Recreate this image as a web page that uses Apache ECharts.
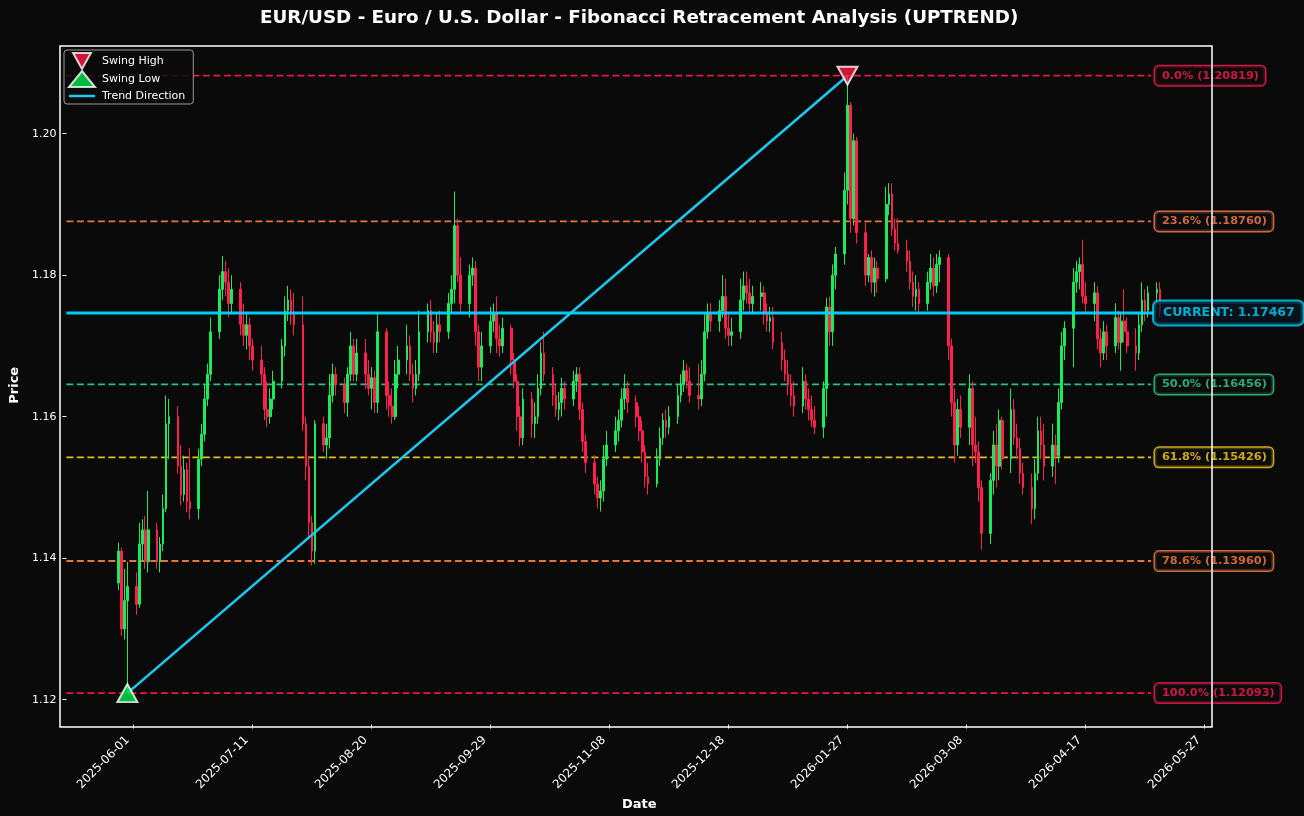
<!DOCTYPE html>
<html><head><meta charset="utf-8">
<script src="https://cdn.jsdelivr.net/npm/echarts@6/dist/echarts.min.js"></script>
<style>html,body{margin:0;padding:0;background:#0a0a0a;}#chart{width:1304px;height:816px;}</style>
</head><body><div id="chart"></div>
<script>
// ---------- data ----------
const START_DATE = '2025-05-27';
const END_DATE = '2026-05-12';
const opens = [
1.1365,1.1410,1.1300,1.1340,
1.1360,1.1335,1.1420,1.1440,1.1395, 1.1440,1.1395,1.1420,1.1470,1.1590, 1.1600,1.1530,1.1490,1.1525,1.1480,
1.1470,1.1540,1.1575,1.1625,1.1660, 1.1720,1.1780,1.1805,1.1790,1.1760, 1.1780,1.1730,1.1715,1.1730,1.1700,
1.1680,1.1660,1.1610,1.1600,1.1625, 1.1650,1.1700,1.1750,1.1765,1.1745, 1.1730,1.1590,1.1530,1.1450,1.1410,
1.1590,1.1560,1.1570,1.1630,1.1660, 1.1645,1.1620,1.1660,1.1700,1.1660, 1.1690,1.1660,1.1640,1.1655,1.1620,
1.1720,1.1630,1.1615,1.1600,1.1660, 1.1680,1.1700,1.1660,1.1640,1.1660, 1.1720,1.1750,1.1720,1.1705,1.1730,
1.1720,1.1760,1.1780,1.1870,1.1800, 1.1760,1.1800,1.1810,1.1720,1.1670, 1.1700,1.1735,1.1745,1.1710,1.1700,
1.1725,1.1680,1.1650,1.1600,1.1570, 1.1625,1.1590,1.1600,1.1640,1.1690, 1.1660,1.1630,1.1610,1.1620,1.1640,
1.1625,1.1650,1.1660,1.1610,1.1565, 1.1535,1.1505,1.1485,1.1495,1.1540, 1.1560,1.1580,1.1595,1.1625,1.1640,
1.1620,1.1600,1.1580,1.1550,1.1515, 1.1505,1.1540,1.1570,1.1595,1.1585, 1.1600,1.1630,1.1645,1.1665,1.1650,
1.1630,1.1625,1.1660,1.1720,1.1745, 1.1735,1.1750,1.1770,1.1725,1.1715, 1.1720,1.1765,1.1785,1.1775,1.1760,
1.1770,1.1775,1.1745,1.1735,1.1740, 1.1705,1.1680,1.1660,1.1645,1.1630, 1.1615,1.1650,1.1625,1.1610,1.1595,
1.1585,1.1640,1.1755,1.1720,1.1800, 1.1830,1.1920,1.2040,1.1880,1.1990, 1.1860,1.1800,1.1825,1.1790,1.1810,
1.1795,1.1900,1.1915,1.1865,1.1845, 1.1835,1.1820,1.1790,1.1770,1.1780, 1.1760,1.1790,1.1810,1.1785,1.1815,
1.1825,1.1700,1.1620,1.1560,1.1610, 1.1585,1.1640,1.1560,1.1550,1.1500, 1.1435,1.1510,1.1560,1.1530,1.1595,
1.1540,1.1610,1.1570,1.1555,1.1520, 1.1500,1.1470,1.1520,1.1580,1.1560, 1.1530,1.1560,1.1545,1.1620,1.1700,
1.1725,1.1790,1.1805,1.1815,1.1770, 1.1760,1.1775,1.1710,1.1690,1.1720, 1.1700,1.1740,1.1705,1.1735,1.1720,
1.1700,1.1690,1.1730,1.1765,1.1750, 1.1775,1.1780
];
const closes = [
1.1410,1.1300,1.1340,1.1360,
1.1335,1.1420,1.1440,1.1395,1.1440, 1.1395,1.1420,1.1470,1.1590,1.1600, 1.1530,1.1490,1.1525,1.1480,1.1470,
1.1540,1.1575,1.1625,1.1660,1.1720, 1.1780,1.1805,1.1790,1.1760,1.1780, 1.1730,1.1715,1.1730,1.1700,1.1680,
1.1660,1.1610,1.1600,1.1625,1.1650, 1.1700,1.1750,1.1765,1.1745,1.1730, 1.1590,1.1530,1.1450,1.1410,1.1590,
1.1560,1.1570,1.1630,1.1660,1.1645, 1.1620,1.1660,1.1700,1.1660,1.1690, 1.1660,1.1640,1.1655,1.1620,1.1720,
1.1630,1.1615,1.1600,1.1660,1.1680, 1.1700,1.1660,1.1640,1.1660,1.1720, 1.1750,1.1720,1.1705,1.1730,1.1720,
1.1760,1.1780,1.1870,1.1800,1.1760, 1.1800,1.1810,1.1720,1.1670,1.1700, 1.1735,1.1745,1.1710,1.1700,1.1725,
1.1680,1.1650,1.1600,1.1570,1.1625, 1.1590,1.1600,1.1640,1.1690,1.1660, 1.1630,1.1610,1.1620,1.1640,1.1625,
1.1650,1.1660,1.1610,1.1565,1.1535, 1.1505,1.1485,1.1495,1.1540,1.1560, 1.1580,1.1595,1.1625,1.1640,1.1620,
1.1600,1.1580,1.1550,1.1515,1.1505, 1.1540,1.1570,1.1595,1.1585,1.1600, 1.1630,1.1645,1.1665,1.1650,1.1630,
1.1625,1.1660,1.1720,1.1745,1.1735, 1.1750,1.1770,1.1725,1.1715,1.1720, 1.1765,1.1785,1.1775,1.1760,1.1770,
1.1775,1.1745,1.1735,1.1740,1.1705, 1.1680,1.1660,1.1645,1.1630,1.1615, 1.1650,1.1625,1.1610,1.1595,1.1585,
1.1640,1.1755,1.1720,1.1800,1.1830, 1.1920,1.2040,1.1880,1.1990,1.1860, 1.1800,1.1825,1.1790,1.1810,1.1795,
1.1900,1.1915,1.1865,1.1845,1.1835, 1.1820,1.1790,1.1770,1.1780,1.1760, 1.1790,1.1810,1.1785,1.1815,1.1825,
1.1700,1.1620,1.1560,1.1610,1.1585, 1.1640,1.1560,1.1550,1.1500,1.1435, 1.1510,1.1560,1.1530,1.1595,1.1540,
1.1610,1.1570,1.1555,1.1520,1.1500, 1.1470,1.1520,1.1580,1.1560,1.1530, 1.1560,1.1545,1.1620,1.1700,1.1725,
1.1790,1.1805,1.1815,1.1770,1.1760, 1.1775,1.1710,1.1690,1.1720,1.1700, 1.1740,1.1705,1.1735,1.1720,1.1700,
1.1690,1.1730,1.1765,1.1750,1.1775, 1.1780,1.17467
];
const lows = [
1.1355,1.1290,1.1285,1.12093,
1.1320,1.1330,1.1395,1.1385,1.1380, 1.1385,1.1380,1.1410,1.1465,1.1540, 1.1520,1.1475,1.1480,1.1465,1.1455,
1.1455,1.1530,1.1565,1.1615,1.1650, 1.1710,1.1765,1.1770,1.1740,1.1745, 1.1715,1.1700,1.1695,1.1680,1.1665,
1.1645,1.1595,1.1585,1.1590,1.1610, 1.1640,1.1685,1.1735,1.1730,1.1715, 1.1580,1.1510,1.1430,1.1390,1.1392,
1.1550,1.1540,1.1555,1.1620,1.1630, 1.1605,1.1600,1.1650,1.1650,1.1650, 1.1640,1.1630,1.1610,1.1605,1.1605,
1.1610,1.1600,1.1590,1.1595,1.1640, 1.1660,1.1650,1.1620,1.1630,1.1650, 1.1705,1.1705,1.1690,1.1690,1.1705,
1.1710,1.1745,1.1760,1.1790,1.1745, 1.1740,1.1785,1.1700,1.1650,1.1650, 1.1690,1.1720,1.1690,1.1685,1.1690,
1.1660,1.1640,1.1580,1.1558,1.1560, 1.1570,1.1570,1.1590,1.1630,1.1650, 1.1615,1.1600,1.1595,1.1600,1.1610,
1.1615,1.1635,1.1595,1.1550,1.1520, 1.1490,1.1470,1.1466,1.1480,1.1530, 1.1550,1.1565,1.1585,1.1610,1.1605,
1.1585,1.1565,1.1535,1.1500,1.1490, 1.1500,1.1530,1.1560,1.1570,1.1575, 1.1590,1.1620,1.1635,1.1640,1.1620,
1.1610,1.1615,1.1650,1.1710,1.1720, 1.1720,1.1740,1.1710,1.1700,1.1700, 1.1710,1.1750,1.1760,1.1745,1.1745,
1.1750,1.1730,1.1720,1.1720,1.1695, 1.1665,1.1650,1.1630,1.1615,1.1600, 1.1605,1.1610,1.1595,1.1585,1.1575,
1.1570,1.1600,1.1700,1.1700,1.1780, 1.1815,1.1900,1.1860,1.1870,1.1845, 1.1785,1.1790,1.1775,1.1770,1.1775,
1.1790,1.1885,1.1855,1.1835,1.1830, 1.1805,1.1780,1.1755,1.1750,1.1745, 1.1750,1.1780,1.1770,1.1775,1.1790,
1.1680,1.1600,1.1535,1.1545,1.1570, 1.1560,1.1530,1.1535,1.1480,1.1412, 1.1420,1.1490,1.1500,1.1510,1.1525,
1.1520,1.1560,1.1540,1.1505,1.1490, 1.1448,1.1455,1.1510,1.1540,1.1510, 1.1515,1.1505,1.1535,1.1610,1.1680,
1.1670,1.1775,1.1780,1.1760,1.1745, 1.1735,1.1695,1.1670,1.1680,1.1680, 1.1690,1.1695,1.1665,1.1705,1.1690,
1.1665,1.1680,1.1720,1.1735,1.1740, 1.1760,1.1740
];
const highs = [
1.1422,1.1415,1.1385,1.1395,
1.1380,1.1450,1.1455,1.1460,1.1495, 1.1450,1.1430,1.1490,1.1630,1.1625, 1.1615,1.1560,1.1545,1.1535,1.1555,
1.1555,1.1590,1.1645,1.1675,1.1740, 1.1800,1.1827,1.1820,1.1810,1.1800, 1.1790,1.1760,1.1745,1.1740,1.1710,
1.1700,1.1670,1.1650,1.1640,1.1665, 1.1710,1.1770,1.1785,1.1780,1.1775, 1.1770,1.1600,1.1545,1.1460,1.1595,
1.1600,1.1590,1.1660,1.1675,1.1670, 1.1655,1.1670,1.1720,1.1710,1.1710, 1.1710,1.1680,1.1670,1.1665,1.1745,
1.1725,1.1650,1.1640,1.1680,1.1700, 1.1730,1.1715,1.1675,1.1680,1.1750, 1.1760,1.1765,1.1735,1.1745,1.1750,
1.1775,1.1800,1.1918,1.1880,1.1825, 1.1815,1.1825,1.1820,1.1730,1.1720, 1.1755,1.1760,1.1770,1.1730,1.1740,
1.1730,1.1690,1.1660,1.1615,1.1640, 1.1635,1.1620,1.1660,1.1705,1.1720, 1.1670,1.1645,1.1635,1.1655,1.1650,
1.1665,1.1670,1.1670,1.1620,1.1575, 1.1545,1.1515,1.1510,1.1560,1.1580, 1.1600,1.1610,1.1640,1.1660,1.1650,
1.1630,1.1615,1.1595,1.1560,1.1535, 1.1555,1.1585,1.1605,1.1610,1.1615, 1.1645,1.1660,1.1680,1.1675,1.1670,
1.1675,1.1680,1.1745,1.1760,1.1760, 1.1765,1.1800,1.1795,1.1745,1.1740, 1.1795,1.1805,1.1805,1.1795,1.1785,
1.1790,1.1785,1.1760,1.1755,1.1755, 1.1720,1.1695,1.1680,1.1660,1.1650, 1.1670,1.1660,1.1640,1.1630,1.1615,
1.1650,1.1768,1.1770,1.1815,1.1840, 1.1945,1.20819,1.2045,1.2000,1.1995, 1.1875,1.1830,1.1835,1.1825,1.1820,
1.1925,1.1930,1.1930,1.1880,1.1880, 1.1850,1.1835,1.1805,1.1800,1.1790, 1.1805,1.1830,1.1825,1.1830,1.1835,
1.1830,1.1710,1.1640,1.1625,1.1630, 1.1660,1.1650,1.1600,1.1565,1.1510, 1.1520,1.1580,1.1590,1.1610,1.1600,
1.1640,1.1625,1.1590,1.1570,1.1535, 1.1520,1.1540,1.1600,1.1600,1.1590, 1.1590,1.1575,1.1640,1.1720,1.1735,
1.1810,1.1820,1.1825,1.1850,1.1790, 1.1790,1.1785,1.1725,1.1735,1.1730, 1.1760,1.1750,1.1745,1.1780,1.1740,
1.1725,1.1745,1.1790,1.1780,1.1785, 1.1790,1.1790
];
const fibNames  = ['0.0%', '23.6%', '50.0%', '61.8%', '78.6%', '100.0%'];
const fibLevels = [1.20819, 1.18760, 1.16456, 1.15426, 1.13960, 1.12093];
const currentPrice = 1.17467;
const swingHighDate = '2026-01-27', swingHighPrice = 1.20819;
const swingLowDate  = '2025-05-30', swingLowPrice  = 1.12093;
const xTickDates = ['2025-06-01','2025-07-11','2025-08-20','2025-09-29','2025-11-08','2025-12-18','2026-01-27','2026-03-08','2026-04-17','2026-05-27'];
const yTicks = [1.12, 1.14, 1.16, 1.18, 1.20];

// ---------- styles ----------
const FONT = 'DejaVu Sans';
const UP = '#19ec5c', DOWN = '#ff1f4f';
const fibColors = ['#ff1a4d', '#ff7f50', '#2fd492', '#ffd21f', '#ff8040', '#ff1a4d'];
const CUR = '#00d4ff', TREND = '#1ec8f0';

const DAY = 86400000, ORIGIN = Date.UTC(2025, 5, 1);
const dayOf = s => (Date.parse(s + 'T00:00:00Z') - ORIGIN) / DAY;
const fmtDay = d => new Date(ORIGIN + Math.round(d) * DAY).toISOString().slice(0, 10);

const dates = [];
for (let t = Date.parse(START_DATE + 'T00:00:00Z'); t <= Date.parse(END_DATE + 'T00:00:00Z'); t += DAY) {
  const wd = new Date(t).getUTCDay();
  if (wd !== 0 && wd !== 6) dates.push(new Date(t).toISOString().slice(0, 10));
}
const d0 = dayOf(dates[0]), d1 = dayOf(dates[dates.length - 1]);
const xMin = d0 - 0.05 * (d1 - d0), xMax = d1 + 0.05 * (d1 - d0);
const lineEnd = d1 - 3;
const labelX = d1 - 1.7;

const candles = dates.map((d, i) => [dayOf(d), opens[i], closes[i], lows[i], highs[i]]);

const series = [];
fibLevels.forEach((lv, i) => {
  series.push({
    type: 'line', silent: true, symbol: 'none', z: 2,
    data: [[xMin, lv], [lineEnd, lv]],
    lineStyle: { color: fibColors[i], width: 1.8, type: [7, 3.5], opacity: 0.9 }
  });
});
series.push({
  type: 'line', silent: true, symbol: 'none', z: 4,
  data: [[xMin, currentPrice], [lineEnd + 1, currentPrice]],
  lineStyle: { color: CUR, width: 3, opacity: 0.95 }
});
series.push({
  type: 'candlestick', name: 'EURUSD', z: 3, barWidth: 2.2,
  data: candles,
  itemStyle: { color: UP, color0: DOWN, borderColor: UP, borderColor0: DOWN, borderWidth: 1 }
});
series.push({
  type: 'line', name: 'Trend Direction', symbol: 'none', showSymbol: false, z: 5,
  data: [[dayOf(swingLowDate), swingLowPrice], [dayOf(swingHighDate), swingHighPrice]],
  lineStyle: { color: TREND, width: 2.6 }, itemStyle: { color: TREND }
});
series.push({
  type: 'scatter', name: 'Swing High', z: 8,
  symbol: 'path://M0,0 L20,0 L10,18 Z', symbolSize: [20, 18],
  data: [[dayOf(swingHighDate), swingHighPrice]],
  itemStyle: { color: '#ff1744', borderColor: '#ffffff', borderWidth: 2 }
});
series.push({
  type: 'scatter', name: 'Swing Low', z: 8,
  symbol: 'triangle', symbolSize: [20, 18],
  data: [[dayOf(swingLowDate), swingLowPrice]],
  itemStyle: { color: '#00e64d', borderColor: '#ffffff', borderWidth: 2 }
});
fibLevels.forEach((lv, i) => {
  series.push({
    type: 'scatter', silent: true, z: 9, symbolSize: 0.1,
    data: [[labelX, lv]],
    itemStyle: { color: 'transparent' },
    label: {
      show: true, position: 'right', distance: 0,
      formatter: fibNames[i] + ' (' + lv.toFixed(5) + ')',
      color: fibColors[i], fontFamily: FONT, fontWeight: 'bold', fontSize: 11.3, lineHeight: 13,
      backgroundColor: 'rgba(14,14,14,0.9)', borderColor: fibColors[i], borderWidth: 1.5,
      borderRadius: 4, padding: [3, 6, 3, 7]
    }
  });
});
series.push({
  type: 'scatter', silent: true, z: 9, symbolSize: 0.1,
  data: [[labelX - 0.3, currentPrice]],
  itemStyle: { color: 'transparent' },
  label: {
    show: true, position: 'right', distance: 0,
    formatter: 'CURRENT: ' + currentPrice.toFixed(5),
    color: CUR, fontFamily: FONT, fontWeight: 'bold', fontSize: 12.5, lineHeight: 15,
    backgroundColor: 'rgba(8,22,32,0.92)', borderColor: CUR, borderWidth: 2,
    borderRadius: 5, padding: [4, 8, 4, 9]
  }
});

const chart = echarts.init(document.getElementById('chart'), null, { renderer: 'canvas' });
chart.setOption({
  animation: false,
  backgroundColor: '#0a0a0a',
  textStyle: { fontFamily: FONT },
  title: {
    text: 'EUR/USD - Euro / U.S. Dollar - Fibonacci Retracement Analysis (UPTREND)',
    left: 255, top: 4,
    textStyle: { color: '#ffffff', fontFamily: FONT, fontWeight: 'bold', fontSize: 18.3 }
  },
  legend: {
    data: [
      { name: 'Swing High' },
      { name: 'Swing Low' },
      { name: 'Trend Direction', icon: 'path://M0,0 L0.01,0 L0,0.01 Z M0,6.8 L26,6.8 L26,9.2 L0,9.2 Z M0,16 L0.01,16 L0,15.99 Z' }
    ],
    orient: 'vertical', left: 64, top: 50,
    itemWidth: 26, itemHeight: 16, itemGap: 0,
    padding: [2, 8, 0, 4],
    backgroundColor: 'rgba(10,10,10,0.85)', borderColor: '#9a9a9a', borderWidth: 1, borderRadius: 3,
    textStyle: { color: '#ffffff', fontFamily: FONT, fontSize: 11, lineHeight: 13, padding: [0, 0, 0, 2] }
  },
  grid: { left: 60, right: 92, top: 46, bottom: 89, containLabel: false },
  xAxis: {
    type: 'value', min: xMin, max: xMax,
    name: 'Date', nameLocation: 'middle', nameGap: 63,
    nameTextStyle: { color: '#ffffff', fontFamily: FONT, fontWeight: 'bold', fontSize: 13 },
    axisLine: { show: false, onZero: false },
    splitLine: { show: false },
    axisTick: { show: true, inside: false, customValues: xTickDates.map(dayOf), length: 4, lineStyle: { color: '#ffffff' } },
    axisLabel: {
      customValues: xTickDates.map(dayOf), formatter: v => fmtDay(v),
      rotate: 45, color: '#ffffff', fontFamily: FONT, fontSize: 11.8, margin: 8,
      padding: [0, 8, 0, 0]
    }
  },
  yAxis: {
    type: 'value', min: 1.11648, max: 1.21239,
    name: 'Price', nameLocation: 'middle', nameGap: 40, nameRotate: 90,
    nameTextStyle: { color: '#ffffff', fontFamily: FONT, fontWeight: 'bold', fontSize: 13 },
    axisLine: { show: false, onZero: false },
    splitLine: { show: false },
    axisTick: { show: true, inside: false, customValues: yTicks, length: 4, lineStyle: { color: '#ffffff' } },
    axisLabel: {
      customValues: yTicks, formatter: v => v.toFixed(2),
      color: '#ffffff', fontFamily: FONT, fontSize: 11, margin: 10
    }
  },
  graphic: [{
    type: 'rect', silent: true, z: 100,
    shape: { x: 60, y: 46, width: 1152, height: 681 },
    style: { fill: 'none', stroke: '#ffffff', lineWidth: 1.5 }
  }],
  series: series
});
</script>
</body></html>
